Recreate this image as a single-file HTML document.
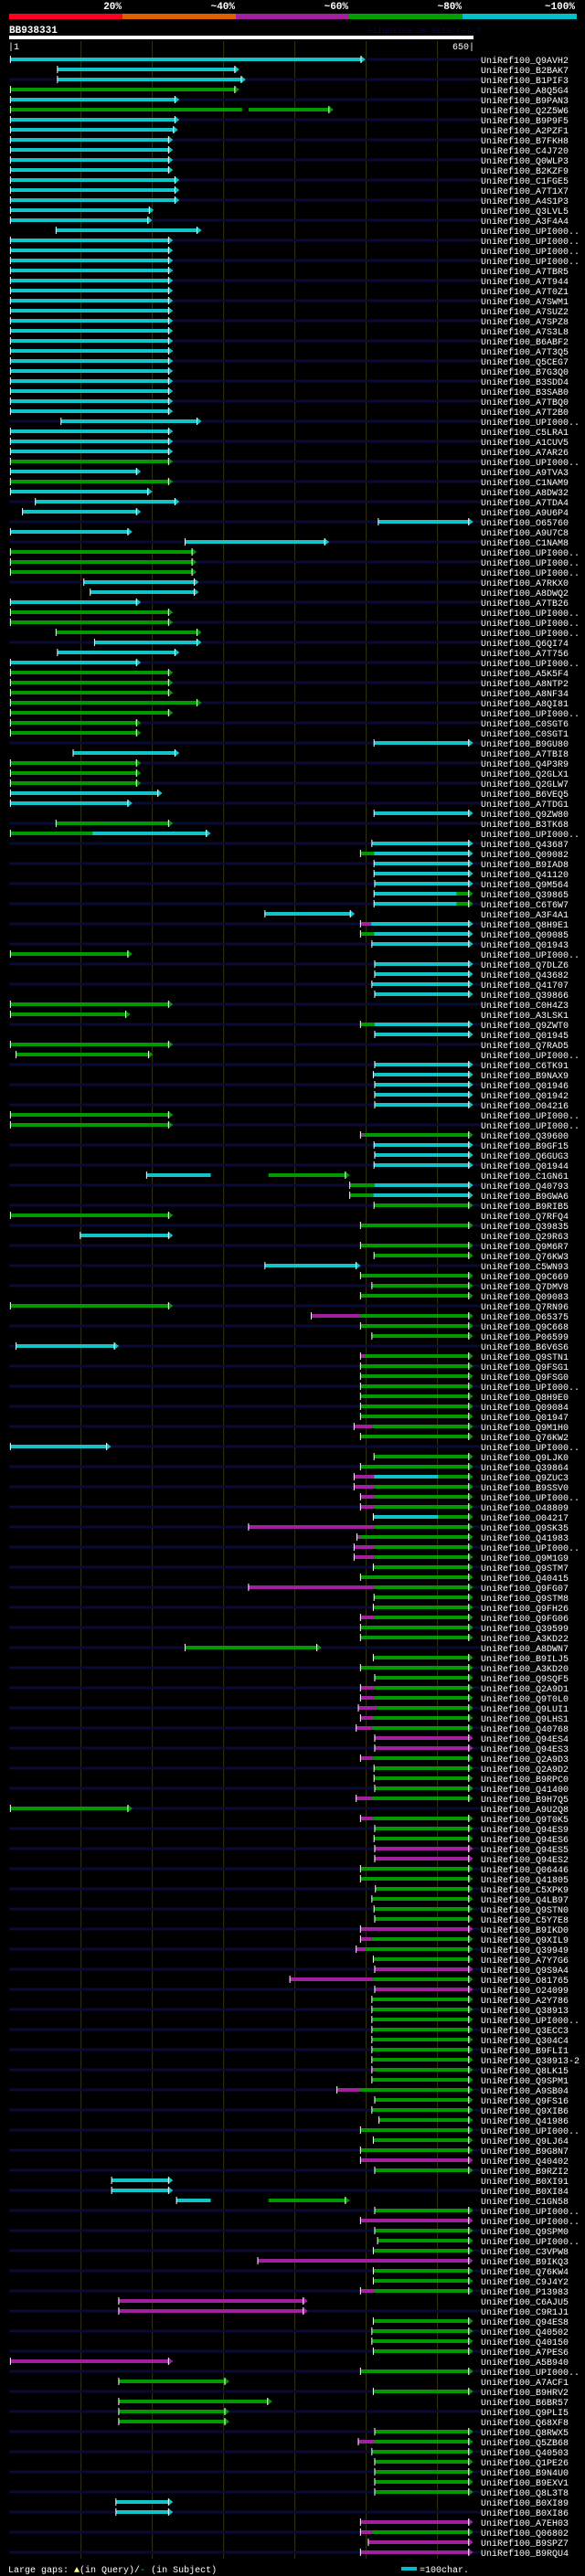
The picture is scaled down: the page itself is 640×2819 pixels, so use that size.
<!DOCTYPE html>
<html><head><meta charset="utf-8"><title>BB938331 alignment view</title>
<style>
html,body{margin:0;padding:0;background:#000;}
body{width:640px;height:2819px;overflow:hidden;}
svg{display:block;}
text{font-family:"Liberation Mono",monospace;}
</style></head>
<body>
<svg id="chart" width="640" height="2819" viewBox="0 0 640 2819" xmlns="http://www.w3.org/2000/svg">
<rect x="0" y="0" width="640" height="2819" fill="#000"/>
<g>
<text x="133" y="10" fill="#fff" font-size="11" font-weight="bold" text-anchor="end">20%</text>
<text x="257" y="10" fill="#fff" font-size="11" font-weight="bold" text-anchor="end">~40%</text>
<text x="381" y="10" fill="#fff" font-size="11" font-weight="bold" text-anchor="end">~60%</text>
<text x="505" y="10" fill="#fff" font-size="11" font-weight="bold" text-anchor="end">~80%</text>
<text x="629" y="10" fill="#fff" font-size="11" font-weight="bold" text-anchor="end">~100%</text>
<rect x="10" y="15" width="124" height="6" fill="#ff0022"/>
<rect x="134" y="15" width="124" height="6" fill="#e06000"/>
<rect x="258" y="15" width="124" height="6" fill="#a020a0"/>
<rect x="382" y="15" width="124" height="6" fill="#00a000"/>
<rect x="506" y="15" width="125" height="6" fill="#00c0c8"/>
</g>
<text x="10" y="36" fill="#fff" font-size="11" font-weight="bold">BB938331</text>
<text x="402" y="36" fill="#0a0a3a" font-size="9">AlignView.pm Beta rel.7</text>
<rect x="10" y="39" width="508" height="4" fill="#fff"/>
<text x="9" y="54" fill="#fff" font-size="10">|1</text>
<text x="519" y="54" fill="#fff" font-size="10" text-anchor="end">650|</text>
<g id="grid"></g>
<g id="rows"></g>
<g>
<text x="9" y="2815" fill="#fff" font-size="10">Large gaps: <tspan fill="#ffff80">▲</tspan>(in Query)/<tspan fill="#00c0c8">-</tspan> (in Subject)</text>
<rect x="439" y="2809" width="17" height="4" fill="#00c0c8"/>
<text x="459" y="2815" fill="#fff" font-size="10">=100char.</text>
</g>
</svg>
<script>
const queryLength = 650;
const gridTicks = [100,200,300,400,500,600];
const hitLabels = ["Q9AVH2","B2BAK7","B1PIF3","A8Q5G4","B9PAN3","Q2Z5W6","B9P9F5","A2PZF1","B7FKH8","C4J720","Q0WLP3","B2KZF9","C1FGE5","A7T1X7","A4S1P3","Q3LVL5","A3F4A4","UPI000..","UPI000..","UPI000..","UPI000..","A7TBR5","A7T944","A7T0Z1","A7SWM1","A7SUZ2","A7SPZ8","A7S3L8","B6ABF2","A7T3Q5","Q5CEG7",
"B7G3Q0","B3SDD4","B3SAB0","A7TBQ0","A7T2B0","UPI000..","C5LRA1","A1CUV5","A7AR26","UPI000..","A9TVA3","C1NAM9","A8DW32","A7TDA4","A9U6P4","O65760","A9U7C8","C1NAM8","UPI000..","UPI000..","UPI000..","A7RKX0","A8DWQ2","A7TB26","UPI000..","UPI000..","UPI000..","Q6QI74","A7T756","UPI000..","A5K5F4",
"A8NTP2","A8NF34","A8QI81","UPI000..","C0SGT6","C0SGT1","B9GU80","A7TBI8","Q4P3R9","Q2GLX1","Q2GLW7","B6VEQ5","A7TDG1","Q9ZW80","B3TK68","UPI000..","Q43687","Q09082","B9IAD8","Q41120","Q9M564","Q39865","C6T6W7","A3F4A1","Q8H9E1","Q09085","Q01943","UPI000..","Q7DLZ6","Q43682","Q41707",
"Q39866","C0H4Z3","A3LSK1","Q9ZWT0","Q01945","Q7RAD5","UPI000..","C6TK91","B9NAX9","Q01946","Q01942","O04216","UPI000..","UPI000..","Q39600","B9GF15","Q6GUG3","Q01944","C1GN61","Q40793","B9GWA6","B9RIB5","Q7RFQ4","Q39835","Q29R63","Q9M6R7","Q76KW3","C5WN93","Q9C669","Q7DMV8","Q09083",
"Q7RN96","O65375","Q9C668","P06599","B6V6S6","Q9STN1","Q9FSG1","Q9FSG0","UPI000..","Q8H9E0","Q09084","Q01947","Q9M1H0","Q76KW2","UPI000..","Q9LJK0","Q39864","Q9ZUC3","B9SSV0","UPI000..","O48809","O04217","Q9SK35","Q41983","UPI000..","Q9M1G9","Q9STM7","Q40415","Q9FG07","Q9STM8",
"Q9FH26","Q9FG06","Q39599","A3KD22","A8DWN7","B9ILJ5","A3KD20","Q9SQF5","Q2A9D1","Q9T0L0","Q9LUI1","Q9LHS1","Q40768","Q94ES4","Q94ES3","Q2A9D3","Q2A9D2","B9RPC0","Q41400","B9H7Q5","A9U2Q8","Q9T0K5","Q94ES9","Q94ES6","Q94ES5","Q94ES2","Q06446","Q41805","C5XPK9","Q4LB97","Q9STN0",
"C5Y7E8","B9IKD0","Q9XIL9","Q39949","A7Y7G6","Q9S9A4","O81765","O24099","A2Y786","Q38913","UPI000..","Q3ECC3","Q304C4","B9FLI1","Q38913-2","Q8LK15","Q9SPM1","A9SB04","Q9FS16","Q9XIB6","Q41986","UPI000..","Q9LJ64","B9G8N7","Q40402","B9RZI2","B0XI91","B0XI84","C1GN58","UPI000..",
"UPI000..","Q9SPM0","UPI000..","C3VPW8","B9IKQ3","Q76KW4","C9J4Y2","P13983","C6AJU5","C9R1J1","Q94ES8","Q40502","Q40150","A7PES6","A5B940","UPI000..","A7ACF1","B9HRV2","B6BR57","Q9PLI5","Q68XF8","Q8RWX5","Q5ZB68","Q40503","Q1PE26","B9N4U0","B9EXV1","Q8L3T8","B0XI89","B0XI86","A7EH03","Q06802","B9SPZ7","B9RQU4"];
// segments in query residue coordinates: color-letter start-end
const hitSegments = ["c1-494","c67-317","c67-326","g1-317","c1-233","g1-326 g335-449","c1-233","c1-231","c1-224","c1-224","c1-224","c1-224","c1-233","c1-233","c1-233","c1-197","c1-195","c65-264","c1-224","c1-224","c1-224","c1-224","c1-224","c1-224","c1-224","c1-224","c1-224","c1-224","c1-224","c1-224","c1-224",
"c1-224","c1-224","c1-224","c1-224","c1-224","c72-264","c1-224","c1-224","c1-224","g1-224","c1-179","g1-224","c1-195","c36-233","c18-179","c517-645","c1-167","c246-443","g1-257","g1-257","g1-257","c104-260","c113-260","c1-179","g1-224","g1-224","g65-264","c119-264","c67-233","c1-179","g1-224",
"g1-224","g1-224","g1-264","g1-224","g1-179","g1-179","c511-645","c89-233","g1-179","g1-179","g1-179","c1-209","c1-167","c511-645","g65-224","g1-116 c116-277","c508-645","g492-511 c511-645","c511-645","c511-645","c512-645","c511-627 g627-645","c511-627 g627-645","c358-479","m492-507 c507-645","g492-511 c511-645","c508-645","g1-167","c512-645","c512-645","c508-645",
"c512-645","g1-224","g1-164","g492-512 c512-645","c512-645","g1-224","g9-196","c512-645","c510-645","c512-645","c512-645","c512-645","g1-224","g1-224","m492-497 g497-645","c511-645","c512-645","c511-645","c192-282 g363-472","g477-512 c512-645","g477-510 c510-645","g511-645","g1-224","g492-645","c99-224","g492-645","g511-645","c358-487","g492-645","g508-645","g492-645",
"g1-224","m423-492 g492-645","g492-645","g508-645","c9-148","m492-498 g498-645","g492-645","g492-645","g492-645","g492-645","g492-645","g492-645","m483-509 g509-645","g492-645","c1-137","g511-645","g492-645","m483-511 c511-601 g601-645","m483-512 g512-645","m492-512 g512-645","m492-512 g512-645","c510-601 g601-645","m335-512 g512-645","m487-492 g492-645","m483-512 g512-645","m483-511 g511-645","g510-645","g492-645","m335-512 g512-645","g511-645",
"g510-645","m492-512 g512-645","g492-645","g492-645","g246-432","g510-645","g492-645","g512-645","m492-512 g512-645","m492-512 g512-645","m489-515 g515-645","m492-510 g510-645","m486-508 g508-645","m512-645","m512-645","m492-510 g510-645","g511-645","g511-645","g512-645","m486-508 g508-645","g1-167","m492-510 g510-645","g512-645","g511-645","m512-645","m512-645","g492-645","g492-645","g513-645","g508-645","g511-645",
"g512-645","m492-645","m492-508 g508-645","m486-498 g498-645","g510-645","m512-645","m393-510 g510-645","m512-645","g508-645","g508-645","g508-645","g508-645","g508-645","g508-645","g508-645","m508-512 g512-645","g508-645","m459-492 g492-645","g512-645","g508-645","g518-645","g492-645","g510-645","g492-645","m492-645","g512-645","c143-224","c143-224","c234-282 g363-472","g512-645",
"m492-645","g512-645","g516-645","g510-645","m348-645","g510-645","g510-645","m492-512 g512-645","m153-413","m153-413","g510-645","g508-645","g508-645","g510-645","m1-224","g492-645","g153-303","g510-645","g153-363","g153-303","g153-303","g512-645","m489-512 g512-645","g508-645","g512-645","g512-645","g512-645","g512-645","c149-224","c149-224","m492-645","m492-508 g508-645","m503-645","m492-645"];
const colorMap = {c:"#10c4c8", g:"#009a00", m:"#a020a0"};
const NS = "http://www.w3.org/2000/svg";
function xScale(r){ return 10.6 + r*0.78; }
function yRow(i){ return 65 + i*11; }
function mk(tag, attrs, parent){
  const el = document.createElementNS(NS, tag);
  for (const k in attrs) el.setAttribute(k, attrs[k]);
  parent.appendChild(el);
  return el;
}
const grid = document.getElementById('grid');
gridTicks.forEach(function(t){
  const ln = mk('line', {x1:xScale(t), x2:xScale(t), y1:45, y2:2800, stroke:'#343410', 'stroke-width':1}, grid);
  
  
});
const rows = document.getElementById('rows');
hitLabels.forEach(function(lab, i){
  const y = yRow(i);
  const g = mk('g', {}, rows);
  
  
  if (i % 2 === 0) {
    const st = mk('rect', {x:10, y:y-1.5, width:516, height:3, fill:'#0a0a34'}, g);
    
    
  }
  const segs = hitSegments[i].split(' ');
  segs.forEach(function(s, j){
    const col = colorMap[s[0]];
    const p = s.slice(1).split('-');
    const x1 = xScale(+p[0]), x2 = xScale(+p[1]);
    const bar = mk('rect', {x:x1, y:y-2, width:Math.max(1, x2-x1), height:4, fill:col}, g);
    
    
    if (j === 0) {
      const tk = mk('line', {x1:x1, x2:x1, y1:y-4, y2:y+4, stroke:'#fff', 'stroke-width':1}, g);
      
      
    }
    if (j === segs.length-1) {
      const ar = mk('polygon', {points:(x2-1)+','+(y-4)+' '+(x2+4)+','+y+' '+(x2-1)+','+(y+4), fill:col}, g);
      
      
      const al = mk('line', {x1:x2-1, x2:x2-1, y1:y-4, y2:y+4, stroke:'#fff', 'stroke-width':1}, g);
      
      
    }
  });
  const t = mk('text', {x:526, y:y+4, fill:'#fff', 'font-size':10}, g);
  t.textContent = 'UniRef100_' + lab;
  
  
});
</script>
</body></html>
